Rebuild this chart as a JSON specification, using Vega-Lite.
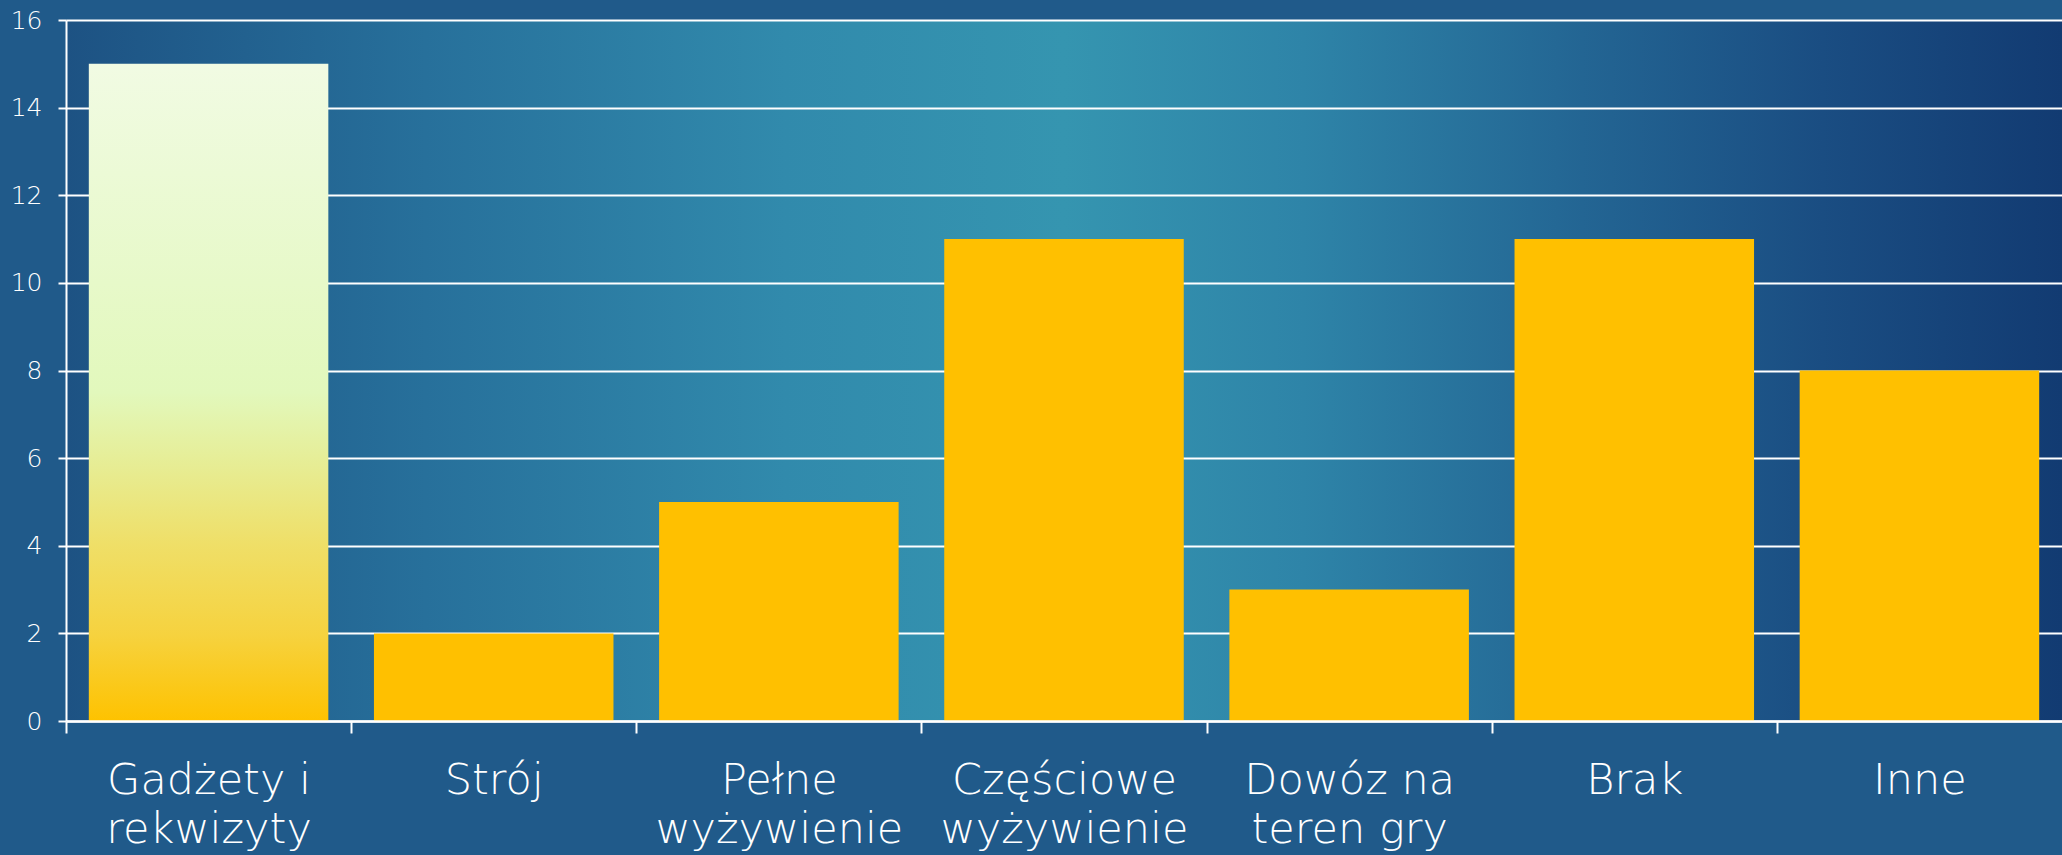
{
  "$schema": "https://vega.github.io/schema/vega-lite/v6.json",
  "width": 1996,
  "height": 701,
  "autosize": {"type": "none"},
  "padding": {"left": 66, "top": 20, "right": 0, "bottom": 134},
  "background": "#205a8a",
  "config": {
    "view": {
      "stroke": null,
      "fill": {
        "gradient": "linear",
        "x1": 0, "y1": 0, "x2": 1, "y2": 0,
        "stops": [
          {"offset": 0, "color": "#1d5283"},
          {"offset": 0.18, "color": "#27709b"},
          {"offset": 0.36, "color": "#318aac"},
          {"offset": 0.5, "color": "#3595b0"},
          {"offset": 0.62, "color": "#2e84a8"},
          {"offset": 0.76, "color": "#236593"},
          {"offset": 0.88, "color": "#1a4d82"},
          {"offset": 1, "color": "#123b72"}
        ]
      }
    },
    "font": "DejaVu Sans"
  },
  "data": {
    "values": [
      {"kategoria": "Gadżety i rekwizyty", "liczba": 15},
      {"kategoria": "Strój", "liczba": 2},
      {"kategoria": "Pełne wyżywienie", "liczba": 5},
      {"kategoria": "Częściowe wyżywienie", "liczba": 11},
      {"kategoria": "Dowóz na teren gry", "liczba": 3},
      {"kategoria": "Brak", "liczba": 11},
      {"kategoria": "Inne", "liczba": 8}
    ]
  },
  "encoding": {
    "x": {
      "field": "kategoria",
      "type": "nominal",
      "scale": {
        "domain": ["Gadżety i rekwizyty", "Strój", "Pełne wyżywienie", "Częściowe wyżywienie", "Dowóz na teren gry", "Brak", "Inne"],
        "paddingInner": 0.16,
        "paddingOuter": 0.08
      },
      "axis": {
        "title": null,
        "labelAngle": 0,
        "tickOffset": -142.57,
        "labelOffset": 142.57,
        "tickSize": 12,
        "tickWidth": 2,
        "tickColor": "#ffffff",
        "domainColor": "#ffffff",
        "domainWidth": 2.5,
        "labelColor": "#ffffff",
        "labelFontSize": 43,
        "labelFont": "DejaVu Sans",
        "labelFontWeight": 200,
        "labelPadding": 26,
        "labelLineHeight": 49,
        "labelBaseline": "top",
        "labelLimit": 400,
        "zindex": 1,
        "labelExpr": "datum.value == 'Gadżety i rekwizyty' ? ['Gadżety i', 'rekwizyty'] : datum.value == 'Pełne wyżywienie' ? ['Pełne', 'wyżywienie'] : datum.value == 'Częściowe wyżywienie' ? ['Częściowe', 'wyżywienie'] : datum.value == 'Dowóz na teren gry' ? ['Dowóz na', 'teren gry'] : datum.label"
      }
    },
    "y": {
      "field": "liczba",
      "type": "quantitative",
      "scale": {"domain": [0, 16], "nice": false},
      "axis": {
        "title": null,
        "values": [0, 2, 4, 6, 8, 10, 12, 14, 16],
        "grid": true,
        "gridColor": "#ffffff",
        "gridWidth": 2,
        "gridOpacity": 1,
        "tickColor": "#ffffff",
        "tickWidth": 2,
        "tickSize": 8,
        "domainColor": "#ffffff",
        "domainWidth": 2,
        "labelColor": "#ffffff",
        "labelFontSize": 25,
        "labelFont": "DejaVu Sans",
        "labelFontWeight": 200,
        "labelPadding": 16,
        "zindex": 0
      }
    }
  },
  "layer": [
    {
      "transform": [{"filter": "datum.kategoria == 'Gadżety i rekwizyty'"}],
      "mark": {
        "type": "bar",
        "color": {
          "gradient": "linear",
          "x1": 0, "y1": 0, "x2": 0, "y2": 1,
          "stops": [
            {"offset": 0, "color": "#f1fbe3"},
            {"offset": 0.5, "color": "#e2f8bc"},
            {"offset": 0.6, "color": "#e6ee98"},
            {"offset": 0.73, "color": "#efdf68"},
            {"offset": 0.87, "color": "#f6d23e"},
            {"offset": 1, "color": "#fec200"}
          ]
        }
      }
    },
    {
      "transform": [{"filter": "datum.kategoria != 'Gadżety i rekwizyty'"}],
      "mark": {"type": "bar", "color": "#FFC000"}
    }
  ]
}
